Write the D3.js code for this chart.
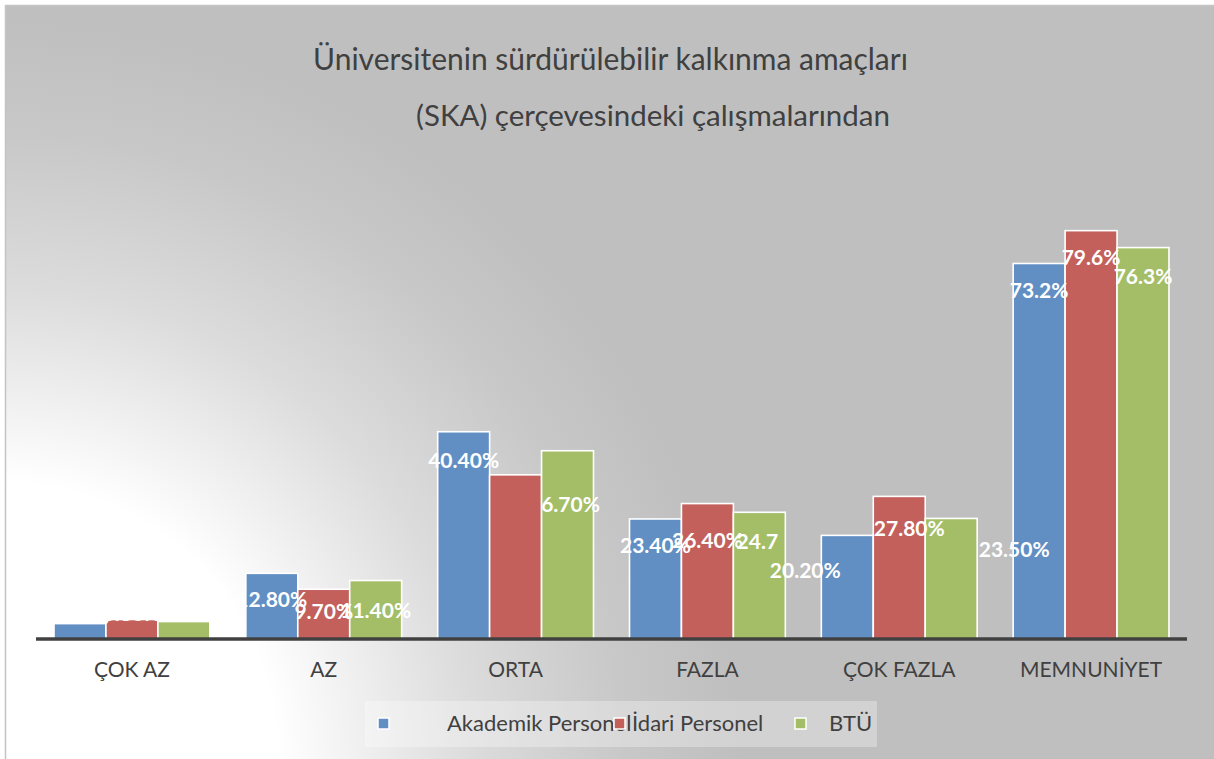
<!DOCTYPE html>
<html><head><meta charset="utf-8">
<script src="https://cdn.jsdelivr.net/npm/d3@7"></script>
<style>html,body{margin:0;padding:0;background:#fff;overflow:hidden}</style>
</head><body>
<svg id="chart" width="1214" height="759"></svg>
<script>
// ---- data ----
const categories = ["ÇOK AZ", "AZ", "ORTA", "FAZLA", "ÇOK FAZLA", "MEMNUNİYET"];
const seriesNames = ["Akademik Personel", "İdari Personel", "BTÜ"];
const akademik = [3.0, 12.8, 40.4, 23.4, 20.2, 73.2];
const idari    = [3.8, 9.7, 32.0, 26.4, 27.8, 79.6];
const btu      = [3.4, 11.4, 36.7, 24.7, 23.5, 76.3];
const akademikLabels = ["3.00%", "12.80%", "40.40%", "23.40%", "20.20%", "73.2%"];
const idariLabels    = ["3.80%", "9.70%", "", "26.40%", "27.80%", "79.6%"];
const btuLabels      = ["3.40%", "11.40%", "6.70%", "24.7", "23.50%", "76.3%"];
const titleLines = ["Üniversitenin sürdürülebilir kalkınma amaçları", "(SKA) çerçevesindeki çalışmalarından"];

// ---- layout / style (not data) ----
const colors = ["#618fc3", "#c3605c", "#a3be67"];
const labelNudge = [
  [[0,0],[0,34],[0,36],[0,34],[-42,43],[0,35]],
  [[0,1],[0,30],[0,35],[0,44],[10,40],[0,34]],
  [[0,-1],[0,37],[3,61],[-2,37],[63,39],[0,36]]
];
const FONT = "Lato, 'Open Sans', sans-serif";
const TXT = "#404040";

const series = [akademik, idari, btu];
const labels = [akademikLabels, idariLabels, btuLabels];

const svg = d3.select("#chart");
const defs = svg.append("defs");
const grad = defs.append("radialGradient").attr("id", "bg")
  .attr("gradientUnits", "userSpaceOnUse").attr("cx", 0).attr("cy", 760).attr("r", 770);
[[0, "#ffffff"], [0.36, "#ffffff"], [0.61, "#dcdcdc"], [0.81, "#c8c8c8"], [0.96, "#bfbfbf"], [1, "#bfbfbf"]]
  .forEach(([o, c]) => grad.append("stop").attr("offset", o).attr("stop-color", c));

svg.append("rect").attr("x", 5.5).attr("y", 5.5).attr("width", 1220).attr("height", 770)
  .attr("fill", "url(#bg)").attr("stroke", "#c4c4c4").attr("stroke-width", 1.5);

// title
const tl = svg.append("g").attr("font-family", FONT).attr("fill", TXT);
const titleSpec = [{cx: 610.5, y: 70, w: 595}, {cx: 653, y: 126, w: 474}];
titleLines.forEach((t, i) => {
  const el = tl.append("text").attr("text-anchor", "middle").attr("x", titleSpec[i].cx)
    .attr("y", titleSpec[i].y).attr("font-size", 100).text(t);
  const len = el.node().getComputedTextLength();
  el.attr("font-size", 100 * titleSpec[i].w / len);
});

// scales
const x0 = d3.scaleBand().domain(categories).range([36, 1187]).paddingInner(0.1877).paddingOuter(0.0939);
const x1 = d3.scaleBand().domain(seriesNames).range([0, x0.bandwidth()]);
const y = d3.scaleLinear().domain([0, 90]).range([639, 639 - 90 * 5.13]);

const gBars = svg.append("g");
series.forEach((vals, si) => {
  gBars.selectAll(null).data(vals).join("rect")
    .attr("x", (d, i) => x0(categories[i]) + x1(seriesNames[si]))
    .attr("y", d => y(d))
    .attr("width", x1.bandwidth())
    .attr("height", d => y(0) - y(d))
    .attr("fill", colors[si])
    .attr("stroke", "#fff").attr("stroke-width", 1.6);
});

// axis
const ax = svg.append("g").attr("transform", `translate(0,${y(0)})`)
  .call(d3.axisBottom(x0).tickSize(0).tickPadding(23));
ax.select(".domain").remove();
ax.selectAll("text").attr("font-family", FONT).attr("font-size", 21).attr("fill", TXT);
svg.append("line").attr("x1", 36).attr("x2", 1187).attr("y1", y(0)).attr("y2", y(0))
  .attr("stroke", "#404040").attr("stroke-width", 3.6);

// data labels
const gLab = svg.append("g").attr("font-family", FONT).attr("font-weight", 700)
  .attr("font-size", 21).attr("fill", "#fff").attr("text-anchor", "middle");
series.forEach((vals, si) => {
  gLab.selectAll(null).data(vals).join("text")
    .attr("x", (d, i) => x0(categories[i]) + x1(seriesNames[si]) + x1.bandwidth() / 2 + labelNudge[si][i][0])
    .attr("y", (d, i) => y(d) + labelNudge[si][i][1])
    .text((d, i) => labels[si][i]);
});

// legend
const lg = svg.append("g");
lg.append("rect").attr("x", 365).attr("y", 701).attr("width", 512).attr("height", 46)
  .attr("fill", "#fff").attr("fill-opacity", 0.3);
const markerX = [378, 614, 795], textX = [447, 632, 829];
seriesNames.forEach((n, i) => {
  lg.append("text").attr("x", textX[i]).attr("y", 731).attr("font-family", FONT)
    .attr("font-size", 22).attr("fill", TXT).text(n);
});
seriesNames.forEach((n, i) => {
  lg.append("rect").attr("x", markerX[i]).attr("y", 718).attr("width", 11).attr("height", 11)
    .attr("fill", colors[i]).attr("stroke", "#fff").attr("stroke-width", 1.5);
});
</script>
</body></html>
